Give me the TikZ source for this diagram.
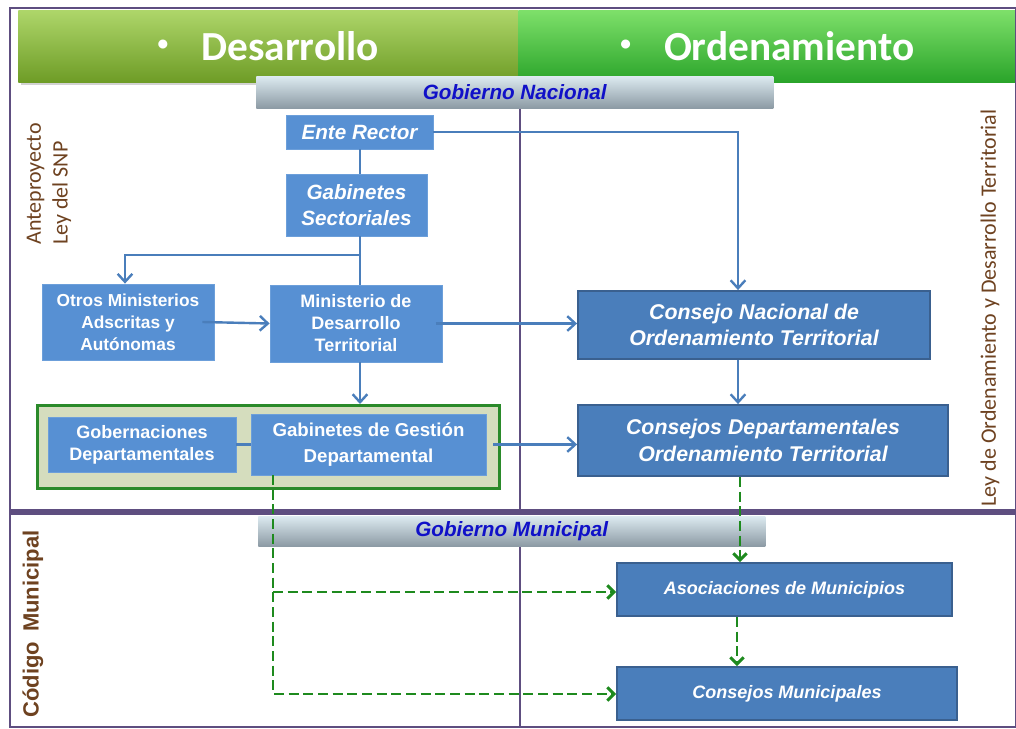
\documentclass[tikz,border=0pt]{standalone}
\usepackage{fontspec}
\setmainfont{Liberation Sans}
\newfontfamily\calib{Carlito}
\usetikzlibrary{arrows.meta,positioning,calc,shadows}
\definecolor{frameC}{HTML}{5E4E80}
\definecolor{boxL}{HTML}{5790D3}
\definecolor{boxLb}{HTML}{6C9FDA}
\definecolor{boxR}{HTML}{4A7EBB}
\definecolor{boxRb}{HTML}{3A608F}
\definecolor{lineC}{HTML}{4A7EBB}
\definecolor{dashC}{HTML}{1E8A1E}
\definecolor{brownC}{HTML}{6E4220}
\definecolor{govC}{HTML}{1010C8}
\definecolor{grpFill}{HTML}{D5DDBE}
\definecolor{grpLine}{HTML}{2A8A2A}
\definecolor{hLtop}{HTML}{AED66A}
\definecolor{hLbot}{HTML}{6E9C26}
\definecolor{hRtop}{HTML}{7EE06A}
\definecolor{hRbot}{HTML}{2AA42A}
\definecolor{gTop}{HTML}{DCEAF0}
\definecolor{gBot}{HTML}{8C9AA4}
\begin{document}
\begin{tikzpicture}[x=0.75pt,y=-0.75pt,
  bx/.style 2 args={minimum width=#1*0.75pt, minimum height=#2*0.75pt, inner sep=0pt, align=center},
  lbox/.style={draw=boxLb, line width=0.6pt, fill=boxL, text=white, font=\fontsize{13}{16.5}\selectfont\bfseries},
  ltop/.style={draw=boxLb, line width=0.6pt, fill=boxL, text=white, font=\fontsize{15.5}{19.5}\selectfont\bfseries\itshape},
  rbox/.style={draw=boxRb, line width=1.4pt, fill=boxR, text=white, font=\fontsize{16}{20}\selectfont\bfseries\itshape},
  mbox/.style={draw=boxRb, line width=1.4pt, fill=boxR, text=white, font=\fontsize{13.5}{16}\selectfont\bfseries\itshape},
  conn/.style={draw=lineC, line width=1.8pt},
  arr/.style={conn, -{Straight Barb[length=6pt,width=11pt,line width=1.8pt]}},
  dsh/.style={draw=dashC, line width=2.2pt, dash pattern=on 7.5pt off 3.5pt},
  dar/.style={dsh, -{Straight Barb[length=5pt,width=10pt,line width=2.2pt]}},
  govbar/.style={top color=gTop, bottom color=gBot, draw=none, inner sep=0pt, text=govC, font=\fontsize{15.5}{18}\selectfont\bfseries\itshape},
  hdr/.style={inner sep=0pt, text=white, font=\calib\fontsize{31}{34}\selectfont\bfseries},
  vtext/.style={rotate=90, text=brownC, inner sep=0pt}
]
\useasboundingbox (0,0) rectangle (1016,728);
\fill[white] (0,0) rectangle (1016,728);

% headers
\node[bx={500}{72}, hdr, top color=hLtop, bottom color=hLbot, anchor=north west,
      drop shadow={opacity=0.35,shadow xshift=2pt,shadow yshift=-2pt}] (hdrL) at (18,10)
      {\raisebox{0.25em}{\fontsize{16}{16}\selectfont\textbullet}\hspace{0.8em}Desarrollo};
\node[bx={498}{72}, hdr, top color=hRtop, bottom color=hRbot, anchor=north west] (hdrR) at (518,10)
      {\raisebox{0.25em}{\fontsize{16}{16}\selectfont\textbullet}\hspace{0.8em}Ordenamiento};

% outer frame and dividers
\draw[frameC, line width=1.6pt] (10,8) rectangle (1016,727);
\draw[frameC, line width=4pt] (10,512) -- (1016,512);
\draw[frameC, line width=1.5pt] (520,108) -- (520,512);
\draw[frameC, line width=1.5pt] (520,546) -- (520,727);

% government bars
\node[bx={517}{32}, govbar, anchor=north west] (gnac) at (256,76) {Gobierno Nacional};
\node[bx={507}{30}, govbar, anchor=north west] (gmun) at (258,516) {Gobierno Municipal};

% vertical labels
\node[vtext, align=left, font=\calib\fontsize{16.5}{20}\selectfont] (ante) at (49,184) {Anteproyecto\\Ley del SNP};
\node[vtext, font=\calib\fontsize{16.5}{18}\selectfont] (lord) at (990,308) {Ley de Ordenamiento y Desarrollo Territorial};
\node[vtext, font=\fontsize{16.5}{18}\selectfont\bfseries] (cmpl) at (33,624) {Código\hspace{0.45em}Municipal};

% green group container
\node[bx={462}{83}, fill=grpFill, draw=grpLine, line width=2.2pt, anchor=north west] (grp) at (36,404) {};

% boxes
\node[ltop, bx={147}{34}] (ente) at (359.5,132) {Ente Rector};
\node[ltop, bx={141}{62}] (gsec) at (356.5,205) {Gabinetes\\Sectoriales};
\node[lbox, bx={172}{76}] (otros) at (128,322) {Otros Ministerios\\Adscritas y\\Autónomas};
\node[lbox, bx={172}{77}, font=\fontsize{13.5}{16.5}\selectfont\bfseries] (mdt) at (356,323.5) {Ministerio de\\Desarrollo\\Territorial};
\node[lbox, bx={188}{55}, font=\fontsize{13.5}{16.5}\selectfont\bfseries] (gob) at (142,444.5) {Gobernaciones\\Departamentales};
\node[lbox, bx={235}{61}, font=\fontsize{14}{19.5}\selectfont\bfseries] (ggd) at (368.5,444.5) {Gabinetes de Gestión\\Departamental};
\node[rbox, bx={352}{68}] (cnot) at (754,325) {Consejo Nacional de\\Ordenamiento Territorial};
\node[rbox, bx={370}{71}] (cdot) at (763,440.5) {Consejos Departamentales\\Ordenamiento Territorial};
\node[mbox, bx={335}{53}] (asoc) at (784.5,589.5) {Asociaciones de Municipios};
\node[mbox, bx={340}{53}] (cmun) at (787,693.5) {Consejos Municipales};

% connector coordinates
\coordinate (k1) at (738,132);
\coordinate (k2) at (360,255);
\coordinate (k3) at (125,255);
\coordinate (d0) at (273,475);
\coordinate (d1) at (273,592);
\coordinate (d2) at (273,694);

% solid connectors
\draw[conn] (ente.south -| k2) -- (gsec.north -| k2);
\draw[conn] (gsec.south -| k2) -- (mdt.north -| k2);
\draw[arr] (k2) -- (k3) -- (otros.north -| k3);
\draw[arr] (ente.east) -- (k1) -- (cnot.north -| k1);
\draw[arr] ([xshift=-9pt]otros.east) -- (mdt.west);
\draw[arr] ([xshift=-5pt]mdt.east) -- (mdt.east -| cnot.west);
\draw[arr] (mdt.south -| k2) -- (grp.north -| k2);
\draw[conn] (gob.east) -- (gob.east -| ggd.west);
\draw[arr] ([xshift=5pt]ggd.east) -- (ggd.east -| cdot.west);
\draw[arr] (cnot.south -| k1) -- (cdot.north -| k1);

% dashed connectors
\draw[dar] (cdot.south -| 740,0) -- (asoc.north -| 740,0);
\draw[dar] (asoc.south -| 737,0) -- (cmun.north -| 737,0);
\draw[dar] (d0) -- (d2) -- (d2 -| cmun.west);
\draw[dar] (d1) -- (d1 -| asoc.west);
\end{tikzpicture}
\end{document}
